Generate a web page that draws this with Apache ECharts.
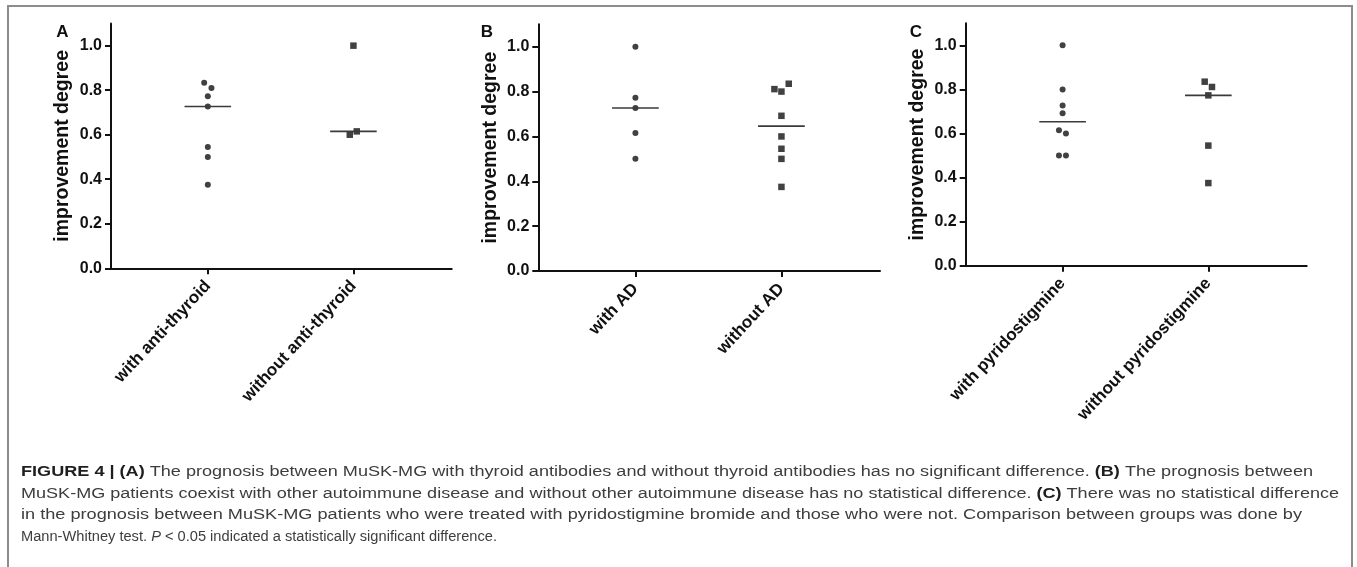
<!DOCTYPE html>
<html><head><meta charset="utf-8">
<script src="https://cdn.jsdelivr.net/npm/echarts@6/dist/echarts.min.js"></script>
<style>html,body{margin:0;padding:0;background:#fff}#c{width:1357px;height:567px}</style>
</head><body><div id="c"></div>
<script>
// ---------- data ----------
const yTickValues = [0, 0.2, 0.4, 0.6, 0.8, 1.0];
const yAxisName = 'improvement degree';

const categoriesA = ['with anti-thyroid', 'without anti-thyroid'];
const withAntiThyroid = [0.833, 0.810, 0.773, 0.727, 0.545, 0.500, 0.375];
const withAntiThyroidJitter = [-0.025, 0.025, 0, 0, 0, 0, 0];
const withoutAntiThyroid = [1.000, 0.600, 0.615];
const withoutAntiThyroidJitter = [0, -0.025, 0.023];

const categoriesB = ['with AD', 'without AD'];
const withAD = [1.000, 0.773, 0.727, 0.615, 0.500];
const withADJitter = [0, 0, 0, 0, 0];
const withoutAD = [0.835, 0.811, 0.800, 0.692, 0.600, 0.545, 0.500, 0.375];
const withoutADJitter = [0.05, -0.048, 0, 0, 0, 0, 0, 0];

const categoriesC = ['with pyridostigmine', 'without pyridostigmine'];
const withPyridostigmine = [1.000, 0.800, 0.727, 0.692, 0.615, 0.600, 0.500, 0.500];
const withPyridostigmineJitter = [0, 0, 0, 0, -0.025, 0.023, -0.025, 0.023];
const withoutPyridostigmine = [0.835, 0.811, 0.773, 0.545, 0.375];
const withoutPyridostigmineJitter = [-0.025, 0.025, 0, 0, 0];

const panelLetters = ['A', 'B', 'C'];

const captionLines = [
  [['b', 'FIGURE 4 | (A)'], ['r', ' The prognosis between MuSK-MG with thyroid antibodies and without thyroid antibodies has no significant difference. '], ['b', '(B)'], ['r', ' The prognosis between']],
  [['r', 'MuSK-MG patients coexist with other autoimmune disease and without other autoimmune disease has no statistical difference. '], ['b', '(C)'], ['r', ' There was no statistical difference']],
  [['r', 'in the prognosis between MuSK-MG patients who were treated with pyridostigmine bromide and those who were not. Comparison between groups was done by']],
  [['r', 'Mann-Whitney test. '], ['i', 'P'], ['r', ' < 0.05 indicated a statistically significant difference.']]
];

// ---------- layout ----------
const grids = [
  {left: 111, top: 23.4, width: 340.7, height: 244.9},
  {left: 538.3, top: 24.3, width: 341.7, height: 246.7},
  {left: 965.7, top: 23.3, width: 341, height: 242.4}
];
const letterPos = [[62.5, 32.5], [487, 32.5], [916, 32.5]];
const captionLeft = 21;
const captionBaselines = [477.3, 499.3, 520.3, 542.3];
const captionRight = [1313, 1339, 1302, 497];
const FONT = '"Liberation Sans", Arial, Helvetica, sans-serif';
const INK = '#111';

const panelData = [
  {cats: categoriesA, g1: withAntiThyroid, j1: withAntiThyroidJitter, g2: withoutAntiThyroid, j2: withoutAntiThyroidJitter},
  {cats: categoriesB, g1: withAD, j1: withADJitter, g2: withoutAD, j2: withoutADJitter},
  {cats: categoriesC, g1: withPyridostigmine, j1: withPyridostigmineJitter, g2: withoutPyridostigmine, j2: withoutPyridostigmineJitter}
];

function median(arr) {
  const s = arr.slice().sort((a, b) => a - b);
  const n = s.length;
  return n % 2 ? s[(n - 1) / 2] : (s[n / 2 - 1] + s[n / 2]) / 2;
}

const xAxes = [], yAxes = [], series = [];
panelData.forEach((p, i) => {
  xAxes.push({
    type: 'value', gridIndex: i, min: -0.665, max: 1.675,
    axisLine: {show: true, onZero: false, lineStyle: {color: INK, width: 2}},
    axisTick: {show: true, customValues: [0, 1], length: 6, lineStyle: {color: INK, width: 2}},
    axisLabel: {
      customValues: [0, 1], formatter: v => p.cats[Math.round(v)],
      rotate: 47, fontSize: 17, fontWeight: 'bold', color: INK, margin: 15, fontFamily: FONT
    },
    splitLine: {show: false}
  });
  yAxes.push({
    type: 'value', gridIndex: i, min: 0, max: 1.1,
    axisLine: {show: true, onZero: false, lineStyle: {color: INK, width: 2}},
    axisTick: {show: true, customValues: yTickValues, length: 6, lineStyle: {color: INK, width: 2}},
    axisLabel: {
      customValues: yTickValues, formatter: v => v.toFixed(1),
      fontSize: 16, fontWeight: 'bold', color: INK, margin: 9, fontFamily: FONT
    },
    splitLine: {show: false},
    name: yAxisName, nameLocation: 'middle', nameGap: 38,
    nameTextStyle: {fontSize: 19.5, fontWeight: 'bold', color: INK, fontFamily: FONT}
  });
  [[p.g1, p.j1, 0, 'circle', 6], [p.g2, p.j2, 1, 'rect', 6.5]].forEach(([vals, jit, cx, sym, size]) => {
    series.push({
      type: 'scatter', xAxisIndex: i, yAxisIndex: i, symbol: sym, symbolSize: size,
      itemStyle: {color: INK}, silent: true,
      data: vals.map((v, k) => [cx + jit[k], v])
    });
    const m = median(vals);
    series.push({
      type: 'line', xAxisIndex: i, yAxisIndex: i, symbol: 'none', silent: true,
      lineStyle: {color: '#3a3a3a', width: 1.6},
      data: [[cx - 0.16, m], [cx + 0.16, m]]
    });
  });
});

// caption measurement for horizontal fit
const CAP_SIZE = 14;
const ctx = document.createElement('canvas').getContext('2d');
function fontFor(kind) {
  return (kind === 'i' ? 'italic ' : '') + (kind === 'b' ? 'bold ' : '') + CAP_SIZE + 'px ' + FONT;
}
const graphics = [
  {type: 'rect', shape: {x: 8, y: 6, width: 1344, height: 620}, style: {fill: 'none', stroke: '#8c8c8c', lineWidth: 2}, silent: true}
];
panelLetters.forEach((L, i) => {
  graphics.push({type: 'text', x: letterPos[i][0], y: letterPos[i][1],
    style: {text: L, font: 'bold 17px ' + FONT, fill: INK, align: 'center', verticalAlign: 'middle'}});
});
captionLines.forEach((segs, li) => {
  let w = 0;
  segs.forEach(([k, t]) => { ctx.font = fontFor(k); w += ctx.measureText(t).width; });
  const sx = (captionRight[li] - captionLeft) / w;
  const text = segs.map(([k, t]) => k === 'r' ? t : '{' + k + '|' + t + '}').join('');
  graphics.push({
    type: 'text', x: captionLeft, y: captionBaselines[li] - 4.9, scaleX: sx, originX: 0, originY: 0,
    style: {
      text: text, font: CAP_SIZE + 'px ' + FONT, fill: '#3d3d3d', align: 'left', verticalAlign: 'middle',
      rich: {
        b: {fontWeight: 'bold', fontSize: CAP_SIZE, fontFamily: FONT, fill: '#1e1e1e'},
        i: {fontStyle: 'italic', fontSize: CAP_SIZE, fontFamily: FONT, fill: '#3d3d3d'}
      }
    }
  });
});

const chart = echarts.init(document.getElementById('c'), null, {renderer: 'canvas'});
chart.setOption({
  animation: false,
  backgroundColor: '#fff',
  grid: grids.map(g => Object.assign({containLabel: false}, g)),
  xAxis: xAxes,
  yAxis: yAxes,
  series: series,
  graphic: graphics
});
</script></body></html>
